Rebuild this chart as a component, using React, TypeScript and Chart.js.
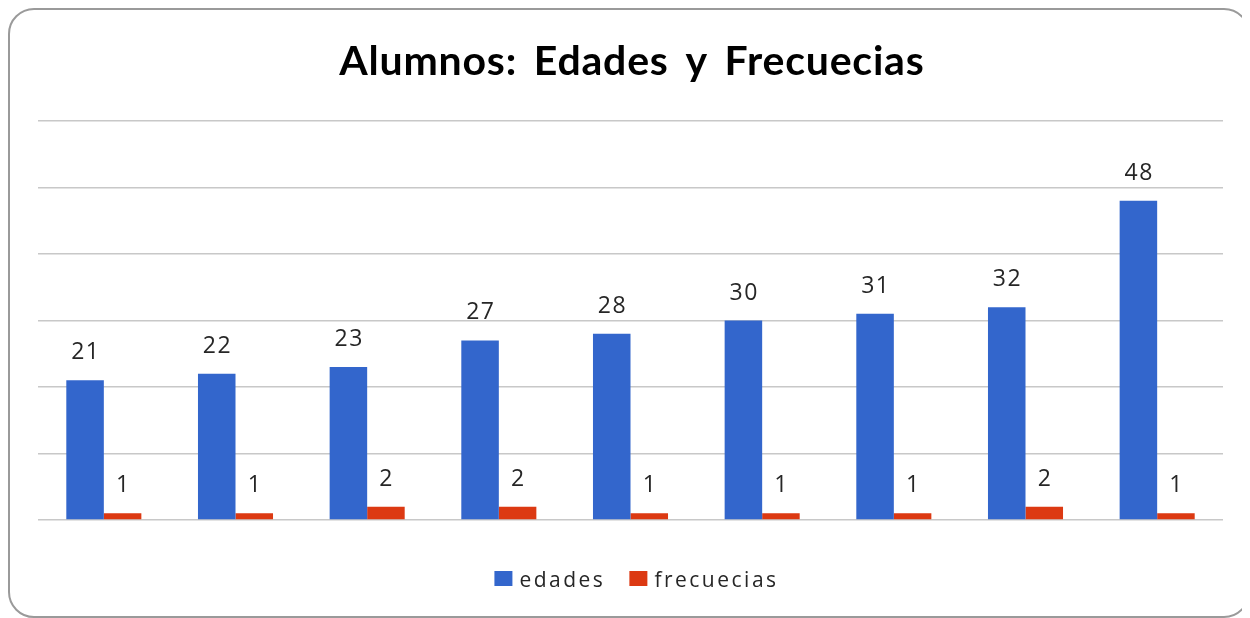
import React, { useEffect, useRef } from "react";
import { Chart, registerables } from "chart.js";

Chart.register(...registerables);

const chartTitle = "Alumnos: Edades y Frecuecias";
const categories = ["1", "2", "3", "4", "5", "6", "7", "8", "9"];
const edades = [21, 22, 23, 27, 28, 30, 31, 32, 48];
const frecuencias = [1, 1, 2, 2, 1, 1, 1, 2, 1];
const seriesNames = ["edades", "frecuecias"];
const seriesColors = ["#3366CC", "#DC3912"];
const yMin = 0;
const yMax = 60;
const yStep = 10;

function spacedText(ctx: CanvasRenderingContext2D, text: string, x: number, y: number, spacing: number, align: CanvasTextAlign, wordSpacing = 0) {
  (ctx as any).letterSpacing = spacing + "px";
  (ctx as any).wordSpacing = wordSpacing + "px";
  ctx.textAlign = align;
  const dx = align === "center" ? spacing / 2 : 0;
  ctx.fillText(text, x + dx, y);
  (ctx as any).letterSpacing = "0px";
  (ctx as any).wordSpacing = "0px";
}

const decorPlugin = {
  id: "decor",
  afterDatasetsDraw(chart: any) {
    const ctx: CanvasRenderingContext2D = chart.ctx;
    ctx.save();
    ctx.font = "23px 'Open Sans'";
    ctx.fillStyle = "#262626";
    ctx.textBaseline = "alphabetic";
    chart.data.datasets.forEach((ds: any, di: number) => {
      const meta = chart.getDatasetMeta(di);
      meta.data.forEach((bar: any, i: number) => {
        spacedText(ctx, String(ds.data[i]), bar.x, bar.y - 21, 1.5, "center");
      });
    });
    ctx.restore();
  },
  afterDraw(chart: any) {
    const ctx: CanvasRenderingContext2D = chart.ctx;
    const area = chart.chartArea;
    const cx = (area.left + area.right) / 2;
    ctx.save();
    // title
    ctx.font = "bold 41px Lato";
    ctx.fillStyle = "#000000";
    ctx.textBaseline = "alphabetic";
    spacedText(ctx, chartTitle, cx + 1, 65, 0.8, "center", 6);
    // legend
    ctx.font = "21px 'Open Sans'";
    (ctx as any).letterSpacing = "2.5px";
    const boxW = 18;
    const boxH = 15;
    const gapBoxText = 7;
    const gapItems = 24;
    const widths = seriesNames.map((n) => ctx.measureText(n).width);
    (ctx as any).letterSpacing = "0px";
    let total = 0;
    widths.forEach((w, i) => {
      total += boxW + gapBoxText + w + (i < widths.length - 1 ? gapItems : 0);
    });
    let x = cx + 6 - total / 2;
    const by = 561;
    seriesNames.forEach((n, i) => {
      ctx.fillStyle = seriesColors[i];
      ctx.fillRect(x, by, boxW, boxH);
      ctx.fillStyle = "#262626";
      spacedText(ctx, n, x + boxW + gapBoxText, by + 16, 2.5, "left");
      x += boxW + gapBoxText + widths[i] + gapItems;
    });
    ctx.restore();
  },
};

export default function App() {
  const canvasRef = useRef<HTMLCanvasElement | null>(null);

  useEffect(() => {
    if (!canvasRef.current) return;
    const chart = new Chart(canvasRef.current, {
      type: "bar",
      data: {
        labels: categories,
        datasets: [
          {
            label: seriesNames[0],
            data: edades,
            backgroundColor: seriesColors[0],
            categoryPercentage: 0.57,
            barPercentage: 1,
          },
          {
            label: seriesNames[1],
            data: frecuencias,
            backgroundColor: seriesColors[1],
            categoryPercentage: 0.57,
            barPercentage: 1,
          },
        ],
      },
      options: {
        animation: false,
        responsive: false,
        maintainAspectRatio: false,
        layout: { padding: { left: 28, right: 25, top: 111, bottom: 96 } },
        plugins: {
          legend: { display: false },
          title: { display: false },
          tooltip: { enabled: false },
        },
        scales: {
          x: {
            display: false,
            grid: { display: false },
          },
          y: {
            min: yMin,
            max: yMax,
            ticks: { display: false, stepSize: yStep },
            grid: { color: "#c8c8c8", lineWidth: 1.5, drawTicks: false },
            border: { display: false },
          },
        },
      },
      plugins: [decorPlugin],
    });
    return () => chart.destroy();
  }, []);

  return (
    <div
      style={{
        width: 1238,
        height: 606,
        border: "2px solid #9a9a9a",
        borderRadius: 26,
        background: "#ffffff",
        overflow: "hidden",
      }}
    >
      <canvas ref={canvasRef} width={1238} height={606} style={{ display: "block" }} />
    </div>
  );
}
